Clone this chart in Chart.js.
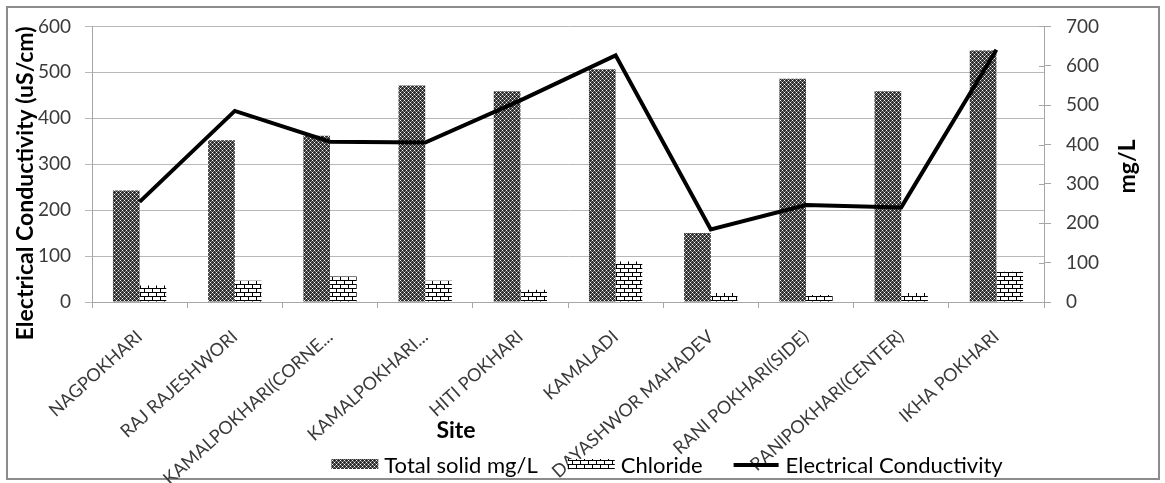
<!DOCTYPE html>
<html>
<head>
<meta charset="utf-8">
<title>Site water quality</title>
<script src="https://cdn.jsdelivr.net/npm/chart.js@4.4.1/dist/chart.umd.min.js"></script>
<style>
  html, body { margin: 0; padding: 0; background: #ffffff; }
  canvas { display: block; }
</style>
</head>
<body>
<canvas id="chart" width="1165" height="483"></canvas>
<script>
// ---- data ----
const sites = [
  'NAGPOKHARI', 'RAJ RAJESHWORI', 'KAMALPOKHARI(CORNE...', 'KAMALPOKHARI...',
  'HITI POKHARI', 'KAMALADI', 'DAYASHWOR MAHADEV', 'RANI POKHARI(SIDE)',
  'RANIPOKHARI(CENTER)', 'IKHA POKHARI'
];
const totalSolid   = [283, 411, 422, 550, 535, 591, 175, 567, 535, 639]; // mg/L
const chloride     = [42, 54, 65, 54, 31, 103, 23, 18, 23, 77];          // mg/L
const conductivity = [218, 416, 349, 347, 439, 537, 158, 211, 206, 549]; // uS/cm
const ecTicks = [0, 100, 200, 300, 400, 500, 600];
const mgTicks = [0, 100, 200, 300, 400, 500, 600, 700];

const seriesNames = ['Total solid mg/L', 'Chloride', 'Electrical Conductivity'];
const axisTitles = { ec: 'Electrical Conductivity (uS/cm)', mg: 'mg/L', site: 'Site' };

// ---- styles ----
const FONT = 'Lato';
const TEXT = '#3a3a3a';
const GRID = '#b8b8b8';
const AXIS = '#a6a6a6';

const canvas = document.getElementById('chart');
const ctx = canvas.getContext('2d');

function tile(w, h, paint) {
  const c = document.createElement('canvas');
  c.width = w; c.height = h;
  paint(c.getContext('2d'));
  return ctx.createPattern(c, 'repeat');
}

// dark stippled fill for total solids
const stipple = tile(4, 4, g => {
  g.fillStyle = '#303030'; g.fillRect(0, 0, 4, 4);
  g.fillStyle = '#ffffff'; g.fillRect(0, 0, 1, 1); g.fillRect(2, 2, 1, 1);
  g.fillStyle = '#858585';
  g.fillRect(1, 1, 1, 1); g.fillRect(3, 3, 1, 1); g.fillRect(3, 1, 1, 1); g.fillRect(1, 3, 1, 1);
});

// brick fill for chloride
const brick = tile(8, 8, g => {
  g.fillStyle = '#ffffff'; g.fillRect(0, 0, 8, 8);
  g.fillStyle = '#000000';
  g.fillRect(0, 0, 8, 1); g.fillRect(0, 4, 8, 1);
  g.fillRect(0, 1, 1, 3); g.fillRect(4, 5, 1, 3);
});

// frame around the whole figure
const framePlugin = {
  id: 'frame',
  beforeDraw(chart) {
    const c = chart.ctx;
    c.save();
    c.fillStyle = '#ffffff';
    c.fillRect(0, 0, chart.width, chart.height);
    c.strokeStyle = '#8c8c8c';
    c.lineWidth = 2;
    c.strokeRect(7, 7, chart.width - 13, chart.height - 11);
    c.restore();
  }
};

// short inner stubs so the right-hand tick marks cross the axis line
const crossTicksPlugin = {
  id: 'crossTicks',
  afterDraw(chart) {
    const s = chart.scales.y1;
    const c = chart.ctx;
    c.save();
    c.strokeStyle = AXIS;
    c.lineWidth = 1;
    c.beginPath();
    s.ticks.forEach(t => {
      const py = Math.round(s.getPixelForValue(t.value)) + 0.5;
      c.moveTo(s.left - 5, py);
      c.lineTo(s.left, py);
    });
    c.stroke();
    c.restore();
  }
};

// axis titles placed freely around the plot
const titlePlugin = {
  id: 'freeTitles',
  afterDraw(chart) {
    const c = chart.ctx;
    const a = chart.chartArea;
    c.save();
    c.fillStyle = '#000000';
    c.font = 'bold 23px ' + FONT;
    c.textAlign = 'center';
    c.textBaseline = 'middle';
    c.save();
    c.translate(26, a.top + 157);
    c.rotate(-Math.PI / 2);
    c.fillText(axisTitles.ec, 0, 0);
    c.restore();
    c.save();
    c.translate(a.right + 84, a.top + 140);
    c.rotate(-Math.PI / 2);
    c.fillText(axisTitles.mg, 0, 0);
    c.restore();
    c.fillText(axisTitles.site, 456, a.bottom + 129);
    c.restore();
  }
};

// legend row along the bottom edge
const legendPlugin = {
  id: 'bottomLegend',
  afterDraw(chart) {
    const c = chart.ctx;
    const y = 465;
    const sw = 47, gapText = 6, gapItem = 30;
    c.save();
    c.font = '22px ' + FONT;
    c.textBaseline = 'middle';
    c.textAlign = 'left';
    const widths = seriesNames.map(n => c.measureText(n).width);
    const total = widths.reduce((s, w) => s + sw + gapText + w, 0) + gapItem * (seriesNames.length - 1);
    let x = 667 - total / 2;
    seriesNames.forEach((name, i) => {
      if (i === 2) {
        c.strokeStyle = '#000000';
        c.lineWidth = 4;
        c.beginPath();
        c.moveTo(x + 1, y);
        c.lineTo(x + sw - 1, y);
        c.stroke();
      } else {
        c.fillStyle = i === 0 ? stipple : brick;
        c.fillRect(x, y - 6, sw, 10);
      }
      x += sw + gapText;
      c.fillStyle = '#000000';
      c.fillText(name, x, y + 1);
      x += widths[i] + gapItem;
    });
    c.restore();
  }
};

new Chart(ctx, {
  type: 'bar',
  data: {
    labels: sites,
    datasets: [
      {
        type: 'line',
        label: seriesNames[2],
        data: conductivity,
        yAxisID: 'y',
        borderColor: '#000000',
        borderWidth: 4,
        pointRadius: 0,
        tension: 0,
        fill: false,
        order: 0
      },
      {
        label: seriesNames[0],
        data: totalSolid,
        yAxisID: 'y1',
        backgroundColor: stipple,
        borderWidth: 0,
        categoryPercentage: 0.56,
        barPercentage: 1.0,
        order: 1
      },
      {
        label: seriesNames[1],
        data: chloride,
        yAxisID: 'y1',
        backgroundColor: brick,
        borderWidth: 0,
        categoryPercentage: 0.56,
        barPercentage: 1.0,
        order: 1
      }
    ]
  },
  options: {
    responsive: false,
    animation: false,
    devicePixelRatio: 1,
    layout: { padding: { top: 26, left: 0, right: 0, bottom: 0 } },
    plugins: {
      legend: { display: false },
      tooltip: { enabled: false }
    },
    scales: {
      x: {
        offset: true,
        grid: {
          offset: true,
          drawOnChartArea: false,
          color: AXIS,
          tickLength: 6
        },
        border: { color: AXIS, width: 1 },
        ticks: {
          autoSkip: false,
          minRotation: 42,
          maxRotation: 42,
          padding: 18,
          color: TEXT,
          font: { family: FONT, size: 18 }
        },
        afterFit(scale) { scale.height = 181; }
      },
      y: {
        position: 'left',
        min: ecTicks[0],
        max: ecTicks[ecTicks.length - 1],
        afterBuildTicks(scale) { scale.ticks = ecTicks.map(v => ({ value: v })); },
        grid: { color: GRID, tickLength: 7 },
        border: { color: AXIS, width: 1 },
        ticks: {
          padding: 14,
          color: TEXT,
          font: { family: FONT, size: 19 }
        },
        afterFit(scale) { scale.width = 92; }
      },
      y1: {
        position: 'right',
        min: mgTicks[0],
        max: mgTicks[mgTicks.length - 1],
        afterBuildTicks(scale) { scale.ticks = mgTicks.map(v => ({ value: v })); },
        grid: { drawOnChartArea: false, color: AXIS, tickLength: 7 },
        border: { color: AXIS, width: 1 },
        ticks: {
          padding: 15,
          color: TEXT,
          font: { family: FONT, size: 19 }
        },
        afterFit(scale) { scale.width = 121; }
      }
    }
  },
  plugins: [framePlugin, crossTicksPlugin, titlePlugin, legendPlugin]
});
</script>
</body>
</html>
